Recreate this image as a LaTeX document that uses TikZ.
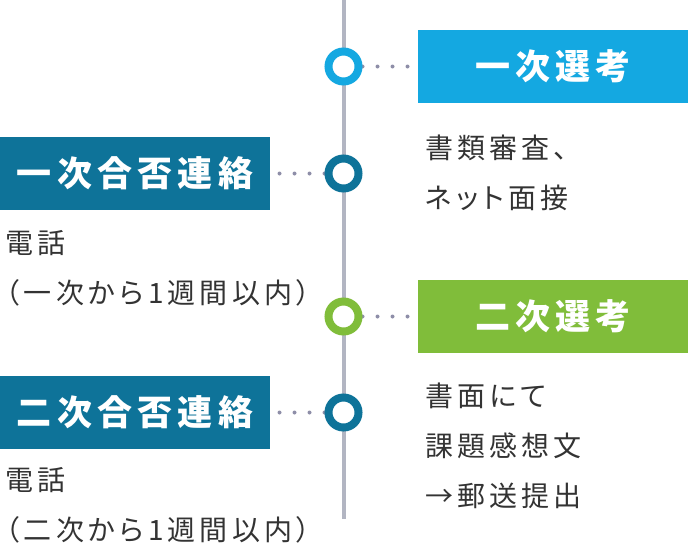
\documentclass[tikz,border=0pt]{standalone}
\usepackage{fontspec}
\usepackage{xcolor}
\usepackage{tikz}
\usetikzlibrary{backgrounds}
\newfontfamily\jpfont[LetterSpace=15,RawFeature=+palt]{Noto Sans CJK JP}
\definecolor{stepblue}{RGB}{20,168,225}
\definecolor{stepteal}{RGB}{14,115,153}
\definecolor{stepgreen}{RGB}{128,189,58}
\definecolor{railgray}{RGB}{178,181,194}
\definecolor{dotgray}{RGB}{142,142,168}
\definecolor{notegray}{RGB}{51,51,51}

\begin{document}
\begin{tikzpicture}[
  x=1pt, y=-1pt,
  stagebox/.style={
    fill=#1,
    text=white,
    inner sep=0pt,
    outer sep=0pt,
    minimum width=270pt,
    minimum height=73pt,
    font=\jpfont\bfseries\fontsize{35}{40}\selectfont
  },
  ring/.style={circle, draw=#1, fill=white, line width=8pt, minimum size=30pt, inner sep=0pt},
  note/.style={anchor=base west, align=left, inner sep=0pt, text=notegray,
    font=\jpfont\fontsize{28}{50}\selectfont},
  leader/.style={draw=dotgray, line width=4pt, line cap=round, dash pattern=on 0pt off 15pt},
  rail/.style={draw=railgray, line width=4pt}
]
\useasboundingbox (0,0) rectangle (688,546);

\node[stagebox=stepblue] (sel1box) at (553,66.5) {一次選考};
\node[stagebox=stepteal] (res1box) at (135,173.5) {一次合否連絡};
\node[stagebox=stepgreen] (sel2box) at (553,316.5) {二次選考};
\node[stagebox=stepteal] (res2box) at (135,412.5) {二次合否連絡};

\node[ring=stepblue] (sel1ring) at (343.5,66.5) {};
\node[ring=stepteal] (res1ring) at (343.5,173.5) {};
\node[ring=stepgreen] (sel2ring) at (343.5,316.5) {};
\node[ring=stepteal] (res2ring) at (343.5,412.5) {};

\coordinate (railtop) at (343.5,0);
\coordinate (railend) at (343.5,519);

\begin{scope}[on background layer]
  \draw[rail] (railtop) -- (railend);
  \draw[leader] (sel1ring) -- (sel1box);
  \draw[leader] (res1ring) -- (res1box);
  \draw[leader] (sel2ring) -- (sel2box);
  \draw[leader] (res2ring) -- (res2box);
\end{scope}

\node[note] (sel1note) at (425,208) {書類審査、\\ネット面接};
\node[note] (sel2note) at (425,506) {書面にて\\課題感想文\\→郵送提出};
\node[note] (res1note) at (5.5,303) {電話\\（一次から1週間以内）};
\node[note] (res2note) at (5.5,540) {電話\\（二次から1週間以内）};
\end{tikzpicture}
\end{document}
